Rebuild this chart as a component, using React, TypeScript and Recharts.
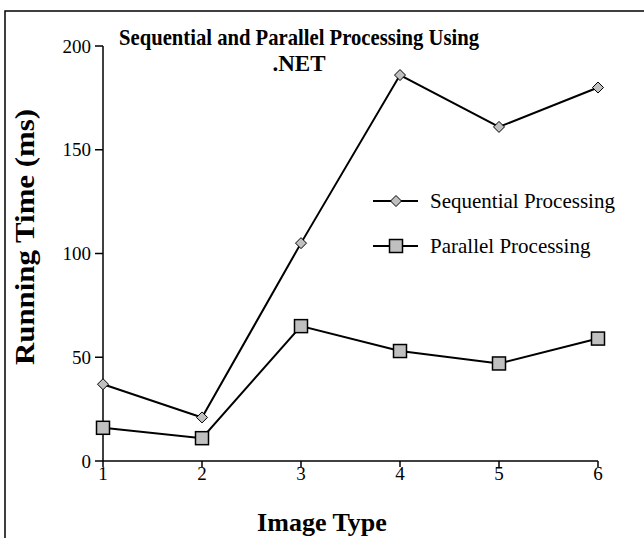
import React from "react";
import { LineChart, Line, XAxis, YAxis, Customized } from "recharts";

const imageTypes = [1, 2, 3, 4, 5, 6];
const sequentialMs = [37, 21, 105, 186, 161, 180];
const parallelMs = [16, 11, 65, 53, 47, 59];
const yTicks = [0, 50, 100, 150, 200];
const seriesNames = ["Sequential Processing", "Parallel Processing"];
const titleLines = ["Sequential and Parallel Processing Using", ".NET"];
const xLabel = "Image Type";
const yLabel = "Running Time (ms)";

const data = imageTypes.map((x, i) => ({ x, seq: sequentialMs[i], par: parallelMs[i] }));

const FONT = "'Liberation Serif', 'Times New Roman', serif";
const GRAY = "#c0c0c0";

const Diamond = (props: any) => {
  const { cx, cy } = props;
  if (cx == null || cy == null) return <g key={props.key} />;
  const r = 5.5;
  return (
    <path
      key={props.key}
      d={`M${cx},${cy - r} L${cx + r},${cy} L${cx},${cy + r} L${cx - r},${cy} Z`}
      fill={GRAY}
      stroke="#000"
      strokeWidth={1}
    />
  );
};

const Square = (props: any) => {
  const { cx, cy } = props;
  if (cx == null || cy == null) return <g key={props.key} />;
  const s = 6.5;
  return (
    <rect key={props.key} x={cx - s} y={cy - s} width={2 * s} height={2 * s} fill={GRAY} stroke="#000" strokeWidth={1.5} />
  );
};

const Decorations = () => (
  <g>
    <rect x={5} y={11} width={700} height={600} fill="none" stroke="#000" strokeWidth={1.5} />
    <text
      x={299}
      y={45}
      textAnchor="middle"
      fontFamily={FONT}
      fontWeight="bold"
      fontSize={23}
      fill="#000"
      textLength={360}
      lengthAdjust="spacingAndGlyphs"
    >
      {titleLines[0]}
    </text>
    <text x={299} y={71} textAnchor="middle" fontFamily={FONT} fontWeight="bold" fontSize={23} fill="#000">
      {titleLines[1]}
    </text>
    <text x={322} y={531} textAnchor="middle" fontFamily={FONT} fontWeight="bold" fontSize={26} fill="#000">
      {xLabel}
    </text>
    <text
      x={0}
      y={0}
      transform="translate(34,237) rotate(-90)"
      textAnchor="middle"
      fontFamily={FONT}
      fontWeight="bold"
      fontSize={28}
      fill="#000"
      textLength={256}
      lengthAdjust="spacingAndGlyphs"
    >
      {yLabel}
    </text>
    {/* legend */}
    <g>
      <line x1={373} y1={201} x2={418} y2={201} stroke="#000" strokeWidth={2} />
      <Diamond cx={396} cy={201} />
      <text x={430} y={208} fontFamily={FONT} fontSize={21} fill="#000">
        {seriesNames[0]}
      </text>
      <line x1={373} y1={246} x2={418} y2={246} stroke="#000" strokeWidth={2} />
      <Square cx={396} cy={246} />
      <text x={430} y={253} fontFamily={FONT} fontSize={21} fill="#000">
        {seriesNames[1]}
      </text>
    </g>
  </g>
);

export default function App() {
  return (
    <div style={{ position: "absolute", left: 0, top: 0, width: 644, height: 538, background: "#fff" }}>
      <LineChart width={644} height={538} data={data} margin={{ top: 46, right: 46, bottom: 0, left: 0 }}>
        <XAxis
          dataKey="x"
          type="number"
          domain={[1, 6]}
          ticks={imageTypes}
          height={77}
          tickSize={6}
          tickMargin={0}
          axisLine={{ stroke: "#000", strokeWidth: 1.5 }}
          tickLine={{ stroke: "#000", strokeWidth: 1.5 }}
          tick={{ fill: "#000", fontSize: 19, fontFamily: FONT }}
        />
        <YAxis
          type="number"
          domain={[0, 200]}
          ticks={yTicks}
          width={103}
          tickSize={8}
          tickMargin={4}
          axisLine={{ stroke: "#000", strokeWidth: 1.5 }}
          tickLine={{ stroke: "#000", strokeWidth: 1.5 }}
          tick={{ fill: "#000", fontSize: 19, fontFamily: FONT }}
        />
        <Line
          dataKey="seq"
          name={seriesNames[0]}
          stroke="#000"
          strokeWidth={2}
          dot={(p: any) => <Diamond {...p} key={`d-${p.index}`} />}
          isAnimationActive={false}
        />
        <Line
          dataKey="par"
          name={seriesNames[1]}
          stroke="#000"
          strokeWidth={2}
          dot={(p: any) => <Square {...p} key={`s-${p.index}`} />}
          isAnimationActive={false}
        />
        <Customized component={Decorations} />
      </LineChart>
    </div>
  );
}
